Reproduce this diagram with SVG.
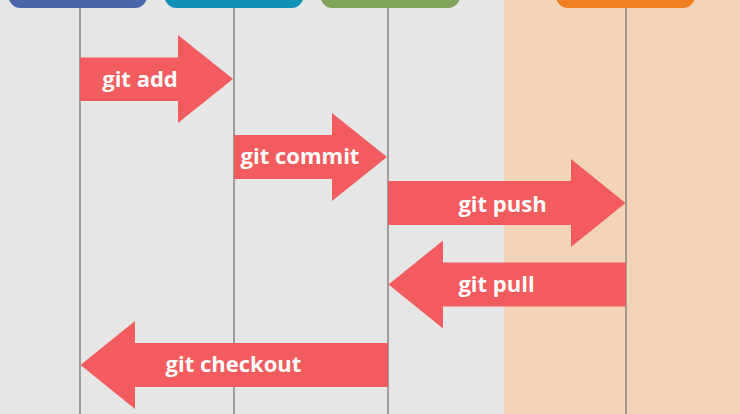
<svg xmlns="http://www.w3.org/2000/svg" width="740" height="414" viewBox="0 0 740 414">
<style>
.lane{stroke:#8c8c8c;stroke-width:1.6;fill:none}
.arrow{fill:#f25c5e}
.lbl{font-family:"Open Sans","Liberation Sans",sans-serif;font-weight:bold;font-size:22px;fill:#ffffff;text-anchor:middle}
</style>
<rect x="0" y="0" width="740" height="414" fill="#e6e6e6"/>
<rect x="504" y="0" width="236" height="414" fill="#f3d4b8"/>
<g id="lifelines">
<line class="lane" x1="80" y1="8" x2="80" y2="414"/>
<line class="lane" x1="234" y1="8" x2="234" y2="414"/>
<line class="lane" x1="388" y1="8" x2="388" y2="414"/>
<line class="lane" x1="626" y1="8" x2="626" y2="414"/>
</g>
<g id="node-blue"><rect x="8.5" y="-30" width="138.5" height="38" rx="12" fill="#4a65a9"/></g>
<g id="node-teal"><rect x="164.5" y="-30" width="139" height="38" rx="12" fill="#1190b8"/></g>
<g id="node-green"><rect x="320.5" y="-30" width="139.5" height="38" rx="12" fill="#81a35a"/></g>
<g id="node-orange"><rect x="556" y="-30" width="139" height="38" rx="12" fill="#f07f22"/></g>
<g id="connectors">
<g id="git-add">
<polygon class="arrow" points="80,57.5 178,57.5 178,35 233,79 178,123 178,101 80,101"/>
<text class="lbl" x="140" y="86.5">git add</text>
</g>
<g id="git-commit">
<polygon class="arrow" points="234,135 332,135 332,113 387,157 332,201 332,179 234,179"/>
<text class="lbl" x="300" y="164">git commit</text>
</g>
<g id="git-push">
<polygon class="arrow" points="388,181 571,181 571,159 625.5,203 571,247 571,225 388,225"/>
<text class="lbl" x="502.5" y="211.5">git push</text>
</g>
<g id="git-pull">
<polygon class="arrow" points="626,262.5 443,262.5 443,240.5 388.5,284.5 443,328.5 443,306.5 626,306.5"/>
<text class="lbl" x="496.5" y="292">git pull</text>
</g>
<g id="git-checkout">
<polygon class="arrow" points="388,343 135,343 135,321 80.5,365 135,409 135,387 388,387"/>
<text class="lbl" x="233.5" y="372">git checkout</text>
</g>
</g>
</svg>
